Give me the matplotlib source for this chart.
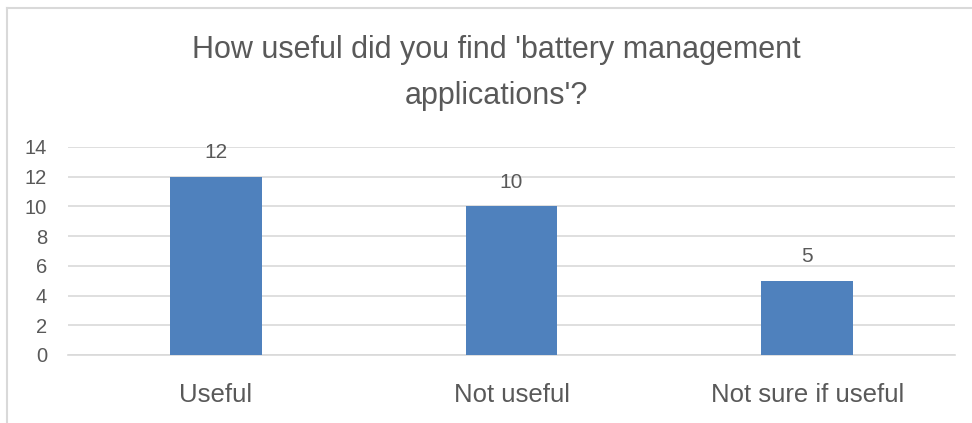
import matplotlib.pyplot as plt
from matplotlib.lines import Line2D
from matplotlib import font_manager

categories = ['Useful', 'Not useful', 'Not sure if useful']
counts = [12, 10, 5]
y_ticks = [0, 2, 4, 6, 8, 10, 12, 14]

names = {f.name for f in font_manager.fontManager.ttflist}
font = 'Liberation Sans Narrow' if 'Liberation Sans Narrow' in names else 'Liberation Sans'
plt.rcParams['font.family'] = [font, 'DejaVu Sans']

grey = '#595959'
grid = '#D9D9D9'

fig = plt.figure(figsize=(9.72, 4.23), dpi=100)
ax = fig.add_axes([0.070, 0.1608, 0.9125, 0.4917])

x = range(len(categories))
ax.bar(x, counts, width=0.31, color='#4F81BD', zorder=3)
for xi, v in zip(x, counts):
    ax.text(xi, v + 1.6, str(v), ha='center', va='center', fontsize=15, color=grey)

ax.set_xlim(-0.5, len(categories) - 0.5)
ax.set_ylim(0, 14)
ax.set_yticks(y_ticks)
ax.set_xticks(list(x))
ax.set_xticklabels(categories, fontsize=18.5, color=grey)
ax.tick_params(axis='y', labelsize=14.5, labelcolor=grey, length=0, pad=15)
ax.tick_params(axis='x', length=0, pad=20)
ax.yaxis.grid(True, color=grid, linewidth=1.2, zorder=0)
for side in ['top', 'right', 'left']:
    ax.spines[side].set_visible(False)
ax.spines['bottom'].set_color(grid)
ax.spines['bottom'].set_linewidth(1.2)

fig.text(0.511, 0.827, "How useful did you find 'battery management\napplications'?",
         ha='center', va='center', fontsize=22, color=grey, linespacing=1.68)

# chart frame edges
fig.add_artist(Line2D([7 / 972, 7 / 972], [0, 1 - 8 / 423], color=grid, linewidth=1.5))
fig.add_artist(Line2D([7 / 972, 1], [1 - 8 / 423, 1 - 8 / 423], color=grid, linewidth=1.5))

fig.savefig('out.png', dpi=100)
